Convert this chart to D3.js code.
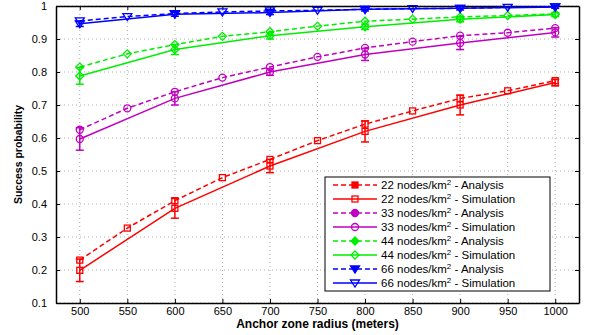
<!DOCTYPE html>
<html lang="en">
  <head>
    <meta charset="UTF-8" />
    <title>Success probability</title>
    <style>
      body { margin: 0; background: #fff; }
      svg { font-family: "Liberation Sans", Arial, sans-serif; }
      .grid line { stroke: #b0b0b0; stroke-dasharray: 1, 3; }
      .tick text { font-size: 11px; fill: #000; }
      .axis path, .axis line { stroke: #000; }
    </style>
  </head>
  <body>
    <script src="https://cdn.jsdelivr.net/npm/d3@7"></script>
    <script>
      /* global d3 */
      const width = 590,
        height = 335;
      const margin = { top: 6, right: 11, bottom: 32, left: 56 };

      const radiusAnalysis = [500, 550, 600, 650, 700, 750, 800, 850, 900, 950, 1000];
      const radiusSim = [500, 600, 700, 800, 900, 1000];
      const xTicks = [500, 550, 600, 650, 700, 750, 800, 850, 900, 950, 1000];
      const yTicks = [0.1, 0.2, 0.3, 0.4, 0.5, 0.6, 0.7, 0.8, 0.9, 1];

      const analysis22 = [0.23, 0.327, 0.41, 0.48, 0.535, 0.592, 0.642, 0.682, 0.72, 0.743, 0.774];
      const sim22 = [0.199, 0.387, 0.515, 0.62, 0.7, 0.768];
      const err22 = [0.034, 0.03, 0.02, 0.032, 0.03, 0.01];

      const analysis33 = [0.625, 0.69, 0.74, 0.783, 0.815, 0.846, 0.873, 0.892, 0.91, 0.919, 0.933];
      const sim33 = [0.597, 0.72, 0.8, 0.853, 0.888, 0.92];
      const err33 = [0.034, 0.02, 0.01, 0.018, 0.02, 0.014];

      const analysis44 = [0.815, 0.855, 0.883, 0.908, 0.922, 0.939, 0.954, 0.96, 0.967, 0.971, 0.976];
      const sim44 = [0.788, 0.868, 0.91, 0.937, 0.96, 0.974];
      const err44 = [0.025, 0.015, 0.01, 0.008, 0.008, 0.006];

      const analysis66 = [0.955, 0.968, 0.977, 0.982, 0.985, 0.987, 0.99, 0.992, 0.993, 0.996, 0.997];
      const sim66 = [0.946, 0.975, 0.98, 0.99, 0.993, 0.997];
      const err66 = [0.008, 0.006, 0.006, 0.005, 0.005, 0.004];

      const densities = ["22", "33", "44", "66"];
      const colors = ["#ff0000", "#c000c0", "#00ee00", "#0000ff"];
      const markers = ["square", "circle", "diamond", "triangle"];

      const series = [
        { a: analysis22, s: sim22, e: err22 },
        { a: analysis33, s: sim33, e: err33 },
        { a: analysis44, s: sim44, e: err44 },
        { a: analysis66, s: sim66, e: err66 }
      ];

      const svg = d3
        .select("body")
        .append("svg")
        .attr("width", width)
        .attr("height", height);

      const x = d3.scaleLinear().domain([475, 1025]).range([margin.left, width - margin.right]);
      const y = d3.scaleLinear().domain([0.1, 1]).range([height - margin.bottom, margin.top]);

      // grid
      svg
        .append("g")
        .attr("class", "grid")
        .selectAll("line.v")
        .data(xTicks)
        .join("line")
        .attr("x1", d => x(d))
        .attr("x2", d => x(d))
        .attr("y1", y(0.1))
        .attr("y2", y(1));
      svg
        .append("g")
        .attr("class", "grid")
        .selectAll("line.h")
        .data(yTicks)
        .join("line")
        .attr("x1", x(475))
        .attr("x2", x(1025))
        .attr("y1", d => y(d))
        .attr("y2", d => y(d));

      // axes
      svg
        .append("g")
        .attr("class", "axis")
        .attr("transform", `translate(0,${y(0.1)})`)
        .call(d3.axisBottom(x).tickValues(xTicks).tickSizeInner(-4).tickSizeOuter(0).tickPadding(4).tickFormat(d3.format("d")))
        .call(g => g.selectAll("text").attr("dy", "0.71em"));
      svg
        .append("g")
        .attr("class", "axis")
        .attr("transform", `translate(0,${y(1)})`)
        .call(d3.axisTop(x).tickValues(xTicks).tickSizeInner(-4).tickSizeOuter(0).tickFormat(""));
      svg
        .append("g")
        .attr("class", "axis")
        .attr("transform", `translate(${x(475)},0)`)
        .call(d3.axisLeft(y).tickValues(yTicks).tickSizeInner(-4).tickSizeOuter(0).tickPadding(9).tickFormat(d => d === 1 ? "1" : d3.format(".1f")(d)));
      svg
        .append("g")
        .attr("class", "axis")
        .attr("transform", `translate(${x(1025)},0)`)
        .call(d3.axisRight(y).tickValues(yTicks).tickSizeInner(-4).tickSizeOuter(0).tickFormat(""));
      svg.selectAll(".axis path").attr("stroke-width", 1.5);

      svg
        .append("text")
        .attr("x", (x(475) + x(1025)) / 2)
        .attr("y", 328)
        .attr("text-anchor", "middle")
        .attr("font-size", "12px")
        .attr("font-weight", "bold")
        .text("Anchor zone radius (meters)");
      svg
        .append("text")
        .attr("transform", `translate(22,${(y(0.1) + y(1)) / 2}) rotate(-90)`)
        .attr("text-anchor", "middle")
        .attr("font-size", "10.5px")
        .attr("font-weight", "bold")
        .text("Success probability");

      function marker(g, type, cx, cy, color, filled) {
        const fill = filled ? color : "none";
        if (type === "square") {
          g.append("rect").attr("x", cx - 3).attr("y", cy - 3).attr("width", 6).attr("height", 6)
            .attr("fill", fill).attr("stroke", color).attr("stroke-width", 1.3);
        } else if (type === "circle") {
          g.append("circle").attr("cx", cx).attr("cy", cy).attr("r", 3.5)
            .attr("fill", fill).attr("stroke", color).attr("stroke-width", 1.3);
        } else if (type === "diamond") {
          g.append("path").attr("d", `M${cx},${cy - 4}L${cx + 4},${cy}L${cx},${cy + 4}L${cx - 4},${cy}Z`)
            .attr("fill", fill).attr("stroke", color).attr("stroke-width", 1.3);
        } else {
          g.append("path").attr("d", `M${cx - 4.5},${cy - 3}L${cx + 4.5},${cy - 3}L${cx},${cy + 4}Z`)
            .attr("fill", fill).attr("stroke", color).attr("stroke-width", 1.3);
        }
      }

      const line = d3.line().x(d => x(d[0])).y(d => y(d[1]));
      const plot = svg.append("g");

      series.forEach((sr, i) => {
        const c = colors[i];
        const aPts = radiusAnalysis.map((r, j) => [r, sr.a[j]]);
        const sPts = radiusSim.map((r, j) => [r, sr.s[j]]);
        plot.append("path").attr("d", line(aPts)).attr("fill", "none").attr("stroke", c)
          .attr("stroke-width", 1.5).attr("stroke-dasharray", "5,3");
        plot.append("path").attr("d", line(sPts)).attr("fill", "none").attr("stroke", c)
          .attr("stroke-width", 1.5);
        // error bars
        sPts.forEach((p, j) => {
          const e = sr.e[j];
          const px = x(p[0]);
          const g = plot.append("g").attr("stroke", c).attr("stroke-width", 1.5);
          g.append("line").attr("x1", px).attr("x2", px).attr("y1", y(p[1] - e)).attr("y2", y(p[1] + e));
          g.append("line").attr("x1", px - 4).attr("x2", px + 4).attr("y1", y(p[1] - e)).attr("y2", y(p[1] - e));
          g.append("line").attr("x1", px - 4).attr("x2", px + 4).attr("y1", y(p[1] + e)).attr("y2", y(p[1] + e));
        });
        aPts.forEach(p => marker(plot, markers[i], x(p[0]), y(p[1]), c, false));
        sPts.forEach(p => marker(plot, markers[i], x(p[0]), y(p[1]), c, false));
      });

      // legend
      const lg = svg.append("g").attr("transform", "translate(325,177)");
      lg.append("rect").attr("width", 225).attr("height", 114).attr("fill", "#fff")
        .attr("stroke", "#000").attr("stroke-width", 1);
      densities.forEach((dn, i) => {
        ["Analysis", "Simulation"].forEach((kind, k) => {
          const row = i * 2 + k;
          const cy = 8 + row * 14;
          const c = colors[i];
          lg.append("line").attr("x1", 8).attr("x2", 52).attr("y1", cy).attr("y2", cy)
            .attr("stroke", c).attr("stroke-width", 1.5)
            .attr("stroke-dasharray", k === 0 ? "5,3" : null);
          marker(lg, markers[i], 30, cy, c, k === 0);
          const t = lg.append("text").attr("x", 56).attr("y", cy + 4).attr("font-size", "11.5px");
          t.append("tspan").text(`${dn} nodes/km`);
          t.append("tspan").attr("dy", -4).attr("font-size", "8px").text("2");
          t.append("tspan").attr("dy", 4).text(` - ${kind}`);
        });
      });
    </script>
  </body>
</html>
